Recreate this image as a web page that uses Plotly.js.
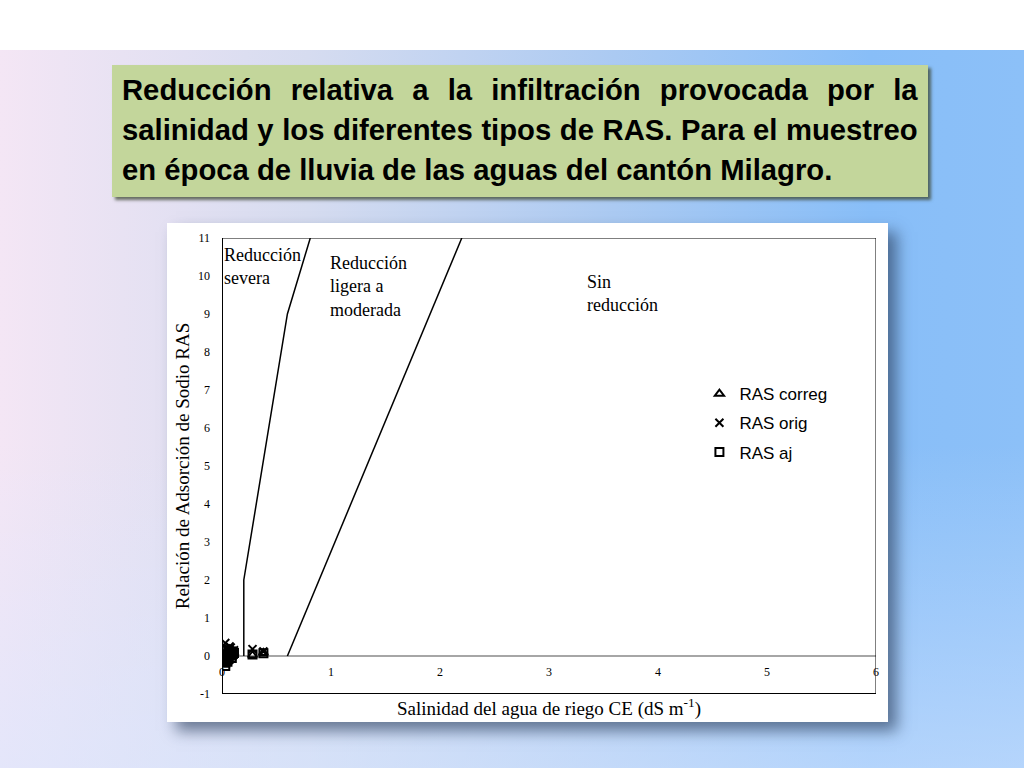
<!DOCTYPE html>
<html>
<head>
<meta charset="utf-8">
<script src="https://cdn.plot.ly/plotly-3.0.1.min.js"></script>
<style>
  html, body { margin: 0; padding: 0; }
  body {
    width: 1024px; height: 768px; position: relative; overflow: hidden;
    background: #ffffff;
  }
  #slide {
    position: absolute; left: 0; top: 50px; width: 1024px; height: 718px;
    background:
      linear-gradient(to bottom, rgba(255,255,255,0) 55%, rgba(215,230,255,0.55) 100%),
      linear-gradient(to right, #f4e6f5 0%, #d6dcf0 30%, #abcaf2 60%, #88bef8 85%, #8cc0f8 100%);
  }
  #titlebox {
    position: absolute; left: 112px; top: 65px; width: 816px; height: 132px;
    background: #c3d69b;
    box-shadow: 3px 3px 3px rgba(60,70,50,0.75);
    overflow: hidden;
  }
  #titletext {
    position: absolute; left: 10px; top: 5px; width: 816px;
    transform: scaleX(0.975); transform-origin: 0 0;
    font-family: "Liberation Sans", Arial, sans-serif;
    font-weight: bold; font-size: 30px; line-height: 40px; color: #000;
  }
  #titletext .j { text-align: justify; text-align-last: justify; white-space: nowrap; }
  #titletext .l { text-align: left; white-space: nowrap; }
  #chartbox {
    position: absolute; left: 167px; top: 223px; width: 721px; height: 499px;
    background: #fff;
    box-shadow: 9px 9px 14px rgba(45,65,95,0.65);
  }
</style>
</head>
<body>
<div id="slide"></div>
<div id="titlebox"><div id="titletext">
  <div class="j">Reducción relativa a la infiltración provocada por la</div>
  <div class="j">salinidad y los diferentes tipos de RAS. Para el muestreo</div>
  <div class="l">en época de lluvia de las aguas del cantón Milagro.</div>
</div></div>
<div id="chartbox"></div>
<script>
// limites entre zonas de reduccion (CE, RAS)
var limSeveraX = [0.2, 0.2, 0.6, 0.81];
var limSeveraY = [0, 2, 9, 11];
var limLigeraX = [0.6, 2.2];
var limLigeraY = [0, 11];

// muestras epoca de lluvia
var ce = [0.02, 0.03, 0.04, 0.05, 0.06, 0.07, 0.08, 0.09, 0.10, 0.11, 0.05, 0.06, 0.07, 0.04, 0.08, 0.03, 0.09, 0.28, 0.38];
var rasCorreg = [0.02, 0.05, 0.08, 0.10, 0.04, 0.06, 0.12, 0.09, 0.03, 0.07, 0.00, 0.03, 0.07, 0.11, 0.05, -0.04, 0.01, 0.02, 0.08];
var rasOrig = [0.12, 0.34, 0.20, 0.18, 0.12, 0.16, 0.22, 0.14, 0.10, 0.15, 0.10, 0.19, 0.25, 0.17, 0.13, 0.08, 0.06, 0.18, 0.12];
var rasAj = [-0.10, -0.26, 0.00, -0.10, -0.02, 0.04, 0.06, 0.02, 0.05, 0.08, -0.15, -0.08, 0.03, -0.12, 0.01, -0.18, -0.05, 0.04, 0.07];

var xTicks = [0, 1, 2, 3, 4, 5, 6];
var yTicks = [-1, 0, 1, 2, 3, 4, 5, 6, 7, 8, 9, 10, 11];

var serif = "Liberation Serif, Times New Roman, serif";

var limSevera = {
  x: limSeveraX, y: limSeveraY, mode: 'lines', showlegend: false, hoverinfo: 'skip',
  line: {color: '#000', width: 1.5}
};
var limLigera = {
  x: limLigeraX, y: limLigeraY, mode: 'lines', showlegend: false, hoverinfo: 'skip',
  line: {color: '#000', width: 1.5}
};
var correg = {
  x: ce, y: rasCorreg, name: 'RAS correg', legendgroup: 'a', mode: 'markers', type: 'scatter',
  marker: {symbol: 'triangle-up-open', size: 8, color: '#000', line: {width: 2}}
};
var orig = {
  x: ce, y: rasOrig, name: 'RAS orig', legendgroup: 'b', mode: 'markers', type: 'scatter',
  marker: {symbol: 'x-thin-open', size: 8, color: '#000', line: {width: 2}}
};
var aj = {
  x: ce, y: rasAj, name: 'RAS aj', legendgroup: 'c', mode: 'markers', type: 'scatter',
  marker: {symbol: 'square-open', size: 8, color: '#000', line: {width: 2}}
};

var data = [limSevera, limLigera, correg, orig, aj];

var layout = {
  width: 721, height: 499,
  margin: {l: 55, r: 12, t: 15, b: 28},
  paper_bgcolor: '#fff', plot_bgcolor: '#fff',
  showlegend: true,
  legend: {
    x: 0.73, y: 0.697, xanchor: 'left', yanchor: 'top',
    font: {family: 'Liberation Sans, Arial, sans-serif', size: 17, color: '#000'},
    itemwidth: 30, tracegroupgap: 4, bgcolor: 'rgba(0,0,0,0)'
  },
  xaxis: {
    range: [0, 6], tickvals: xTicks, ticktext: xTicks.map(String), ticks: '',
    showgrid: false, zeroline: false,
    showline: false, anchor: 'free', position: 1 / 12, ticklabelstandoff: 7,
    tickfont: {family: serif, size: 12, color: '#000'},
    title: {text: 'Salinidad del agua de riego CE (dS m<sup>-1</sup>)', standoff: 23,
            font: {family: serif, size: 19, color: '#000'}},
    automargin: false
  },
  yaxis: {
    range: [-1, 11], tickvals: yTicks, ticktext: yTicks.map(String), ticks: '', showgrid: false,
    zeroline: true, zerolinecolor: '#a6a6a6', zerolinewidth: 1.5,
    showline: false, ticklabelstandoff: 11,
    tickfont: {family: serif, size: 12, color: '#000'},
    title: {text: 'Relación de Adsorción de Sodio RAS', standoff: 3,
            font: {family: serif, size: 19, color: '#000'}},
    automargin: false
  },
  shapes: [
    {type: 'rect', xref: 'x', yref: 'y', x0: 0, x1: 6, y0: -1, y1: 11,
     line: {color: '#000', width: 1}},
    {type: 'line', xref: 'x', yref: 'y', x0: 0, x1: 0, y0: -1, y1: 11,
     line: {color: '#000', width: 2}},
    {type: 'line', xref: 'x', yref: 'y', x0: 0, x1: 6, y0: -1, y1: -1,
     line: {color: '#000', width: 2}}
  ],
  annotations: [
    {x: 0.0, y: 10.88, xref: 'x', yref: 'y', xanchor: 'left', yanchor: 'top', align: 'left',
     showarrow: false, text: 'Reducción<br>severa', font: {family: serif, size: 18, color: '#000'}},
    {x: 0.97, y: 10.65, xref: 'x', yref: 'y', xanchor: 'left', yanchor: 'top', align: 'left',
     showarrow: false, text: 'Reducción<br>ligera a<br>moderada', font: {family: serif, size: 18, color: '#000'}},
    {x: 3.33, y: 10.15, xref: 'x', yref: 'y', xanchor: 'left', yanchor: 'top', align: 'left',
     showarrow: false, text: 'Sin<br>reducción', font: {family: serif, size: 18, color: '#000'}}
  ]
};

Plotly.newPlot('chartbox', data, layout, {displayModeBar: false, staticPlot: true});
</script>
</body>
</html>
